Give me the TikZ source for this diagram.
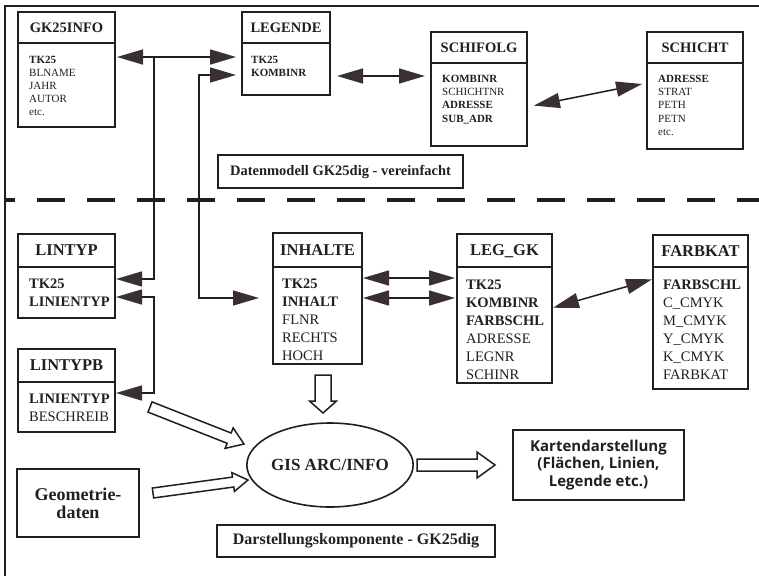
\documentclass[tikz,border=0pt]{standalone}
\usepackage{fontspec}
\setmainfont{Liberation Serif}
\newfontfamily\kartenfont{Open Sans}
\usetikzlibrary{arrows.meta,calc,shapes.geometric}

\definecolor{ink}{HTML}{231E20}
\definecolor{headfill}{HTML}{3A3034}

\tikzset{
  frame/.style={draw=ink, line width=1.6pt},
  sepline/.style={draw=ink, line width=4pt, dash pattern=on 28pt off 22pt, dash phase=18pt},
  tbox/.style={draw=ink, line width=1.6pt, inner sep=0pt, outer sep=0pt, anchor=north west},
  tline/.style={draw=ink, line width=1.6pt},
  ttop/.style={text=ink, font=\fontsize{14.5}{16}\selectfont\bfseries},
  tbot/.style={text=ink, font=\fontsize{16.5}{18}\selectfont\bfseries},
  tfb/.style={text=ink, inner sep=0pt, font=\fontsize{11}{13}\selectfont\bfseries},
  tfr/.style={text=ink, inner sep=0pt, font=\fontsize{11}{13}\selectfont},
  bfb/.style={text=ink, inner sep=0pt, font=\fontsize{14.5}{18}\selectfont\bfseries},
  bfr/.style={text=ink, inner sep=0pt, font=\fontsize{14.5}{18}\selectfont},
  lbox/.style={draw=ink, line width=1.6pt, inner sep=0pt, outer sep=0pt, anchor=north west, text=ink, align=center},
  bigtip/.tip={Triangle[length=26pt, width=15pt, fill=headfill, color=headfill]},
  arr/.style={draw=ink, line width=1.5pt},
  arr1/.style={arr, -bigtip},
  arr2/.style={arr, bigtip-bigtip},
  barrow/.style={draw=ink, line width=1.5pt, fill=white, line join=miter},
}

% table with title bar: name, x1, y1, x2, ydivider, y2, title style, title
\newcommand\dbtable[8]{%
  \node[tbox, minimum width={(#4-#2)*1pt}, minimum height={(#6-#3)*1pt}] (#1) at (#2,#3) {};
  \draw[tline] (#2,#5) -- (#4,#5);
  \node[#7, anchor=base, inner sep=0pt] (#1-title) at ({(#2+#4)/2},{(#3+#5)/2+5.3}) {#8};
}
% one attribute line: style, name, x, baseline, text
\newcommand\fld[5]{\node[#1, anchor=base west] (#2) at (#3,#4) {#5};}
% hollow block arrow: from, to, shaft half width, head half width, head length
\newcommand\blockarrow[5]{%
  \draw[barrow] let \p1=($(#2)-(#1)$), \n1={veclen(\x1,\y1)}, \n2={atan2(\y1,\x1)} in
    [shift={(#1)}, rotate=\n2]
    (0pt,#3pt) -- ({\n1-#5pt},#3pt) -- ({\n1-#5pt},#4pt) -- (\n1,0pt)
    -- ({\n1-#5pt},-#4pt) -- ({\n1-#5pt},-#3pt) -- (0pt,-#3pt) -- cycle;
}

\begin{document}
\begin{tikzpicture}[x=1pt,y=-1pt]
\useasboundingbox (0,0) rectangle (759,576);
\fill[white] (0,0) rectangle (759,576);

% frame and separator between data model and display part
\draw[frame] (759,6) -- (5,6) -- (5,576);
\draw[sepline] (5,200) -- (759,200);

% ---------- data model ----------
\dbtable{gk}{18}{12}{115}{43}{127}{ttop}{GK25INFO}
\fld{tfb}{gk1}{29}{63}{TK25}
\fld{tfr}{gk2}{29}{76}{BLNAME}
\fld{tfr}{gk3}{29}{89}{JAHR}
\fld{tfr}{gk4}{29}{102}{AUTOR}
\fld{tfr}{gk5}{29}{115}{etc.}

\dbtable{leg}{242}{12}{330}{43}{95}{ttop}{LEGENDE}
\fld{tfb}{leg1}{251}{63}{TK25}
\fld{tfb}{leg2}{251}{76}{KOMBINR}

\dbtable{sf}{431}{32}{527}{63}{146}{ttop}{SCHIFOLG}
\fld{tfb}{sf1}{442}{82}{KOMBINR}
\fld{tfr}{sf2}{442}{95}{SCHICHTNR}
\fld{tfb}{sf3}{442}{108.5}{ADRESSE}
\fld{tfb}{sf4}{442}{122}{SUB\_ADR}

\dbtable{sc}{647}{32}{743}{63}{149}{ttop}{SCHICHT}
\fld{tfb}{sc1}{658}{82}{ADRESSE}
\fld{tfr}{sc2}{658}{95}{STRAT}
\fld{tfr}{sc3}{658}{108.5}{PETH}
\fld{tfr}{sc4}{658}{122}{PETN}
\fld{tfr}{sc5}{658}{135}{etc.}

\node[lbox, minimum width=245pt, minimum height=33pt,
      font=\fontsize{14.5}{16}\selectfont\bfseries] (dm) at (218,155)
      {Datenmodell GK25dig - vereinfacht};

% ---------- display component ----------
\dbtable{lt}{18}{234}{115}{267}{318}{tbot}{LINTYP}
\fld{bfb}{lt1}{29}{288}{TK25}
\fld{bfb}{lt2}{29}{306}{LINIENTYP}

\dbtable{ltb}{18}{349}{115}{382}{432}{tbot}{LINTYPB}
\fld{bfb}{ltb1}{29}{403}{LINIENTYP}
\fld{bfr}{ltb2}{29}{421}{BESCHREIB}

\dbtable{inh}{273}{233}{362}{267}{364}{tbot}{INHALTE}
\fld{bfb}{inh1}{282}{288}{TK25}
\fld{bfb}{inh2}{282}{306}{INHALT}
\fld{bfr}{inh3}{282}{324}{FLNR}
\fld{bfr}{inh4}{282}{342}{RECHTS}
\fld{bfr}{inh5}{282}{360}{HOCH}

\dbtable{lg}{457}{234}{552}{267}{383}{tbot}{LEG\_GK}
\fld{bfb}{lg1}{466}{289}{TK25}
\fld{bfb}{lg2}{466}{307}{KOMBINR}
\fld{bfb}{lg3}{466}{325}{FARBSCHL}
\fld{bfr}{lg4}{466}{343}{ADRESSE}
\fld{bfr}{lg5}{466}{361}{LEGNR}
\fld{bfr}{lg6}{466}{379}{SCHINR}

\dbtable{fk}{653}{235}{748}{267}{389}{tbot}{FARBKAT}
\fld{bfb}{fk1}{663}{289}{FARBSCHL}
\fld{bfr}{fk2}{663}{307}{C\_CMYK}
\fld{bfr}{fk3}{663}{325}{M\_CMYK}
\fld{bfr}{fk4}{663}{343}{Y\_CMYK}
\fld{bfr}{fk5}{663}{361}{K\_CMYK}
\fld{bfr}{fk6}{663}{379}{FARBKAT}

\node[draw=ink, line width=1.6pt, ellipse, minimum width=140pt, minimum height=84pt,
      inner sep=0pt, outer sep=0pt, text=ink,
      font=\fontsize{17}{19}\selectfont\bfseries] (gis) at (330,465) {GIS ARC/INFO};

\node[lbox, minimum width=122pt, minimum height=68pt,
      font=\fontsize{18}{18}\selectfont\bfseries] (geo) at (17,469) {Geometrie-\\daten};

\node[lbox, minimum width=171pt, minimum height=70pt,
      font=\kartenfont\fontsize{15}{17.5}\selectfont\bfseries] (kd) at (513,430)
      {Kartendarstellung\\(Flächen, Linien,\\Legende etc.)};

\node[lbox, minimum width=278pt, minimum height=32pt,
      font=\fontsize{16}{18}\selectfont\bfseries] (dk) at (217,525)
      {Darstellungskomponente - GK25dig};

% ---------- relations ----------
\coordinate (r57) at (0,57);
\coordinate (r75) at (0,75);
\coordinate (r76) at (0,76);
\coordinate (r83) at (0,83);
\coordinate (r107) at (0,107);
\coordinate (r278) at (0,278);
\coordinate (r279) at (0,279);
\coordinate (r297) at (0,297);
\coordinate (r298) at (0,298);
\coordinate (r308) at (0,308);
\coordinate (r393) at (0,393);
\coordinate (j1) at (154,57);
\coordinate (j2) at (199,200);
\coordinate (j3) at (154,350);

\draw[arr2, shorten <=2pt, shorten >=6pt] (gk.east |- r57) -- (leg.west |- r57);
\draw[arr1, shorten >=1pt] (j1) |- (lt.east |- r279);
\draw[arr2, shorten <=6pt, shorten >=14pt] (leg.west |- r75) -| (j2) |- (inh.west |- r298);
\draw[arr2, shorten <=1pt, shorten >=1pt] (lt.east |- r297) -| (j3) |- (ltb.east |- r393);
\draw[arr2, shorten <=7pt, shorten >=6pt] (leg.east |- r76) -- (sf.west |- r76);
\draw[arr2, shorten <=7pt, shorten >=5pt] (sf.east |- r107) -- (sc.west |- r83);
\draw[arr2, shorten <=1pt, shorten >=2pt] (inh.east |- r278) -- (lg.west |- r278);
\draw[arr2, shorten <=1pt, shorten >=2pt] (inh.east |- r298) -- (lg.west |- r298);
\draw[arr2, shorten <=1pt, shorten >=1pt] (lg.east |- r308) -- (fk.west |- r279);

% ---------- data flow into and out of the GIS ----------
\coordinate (b1s) at (323,375);
\coordinate (b1e) at (323,413);
\coordinate (b2s) at (150,407);
\coordinate (b2e) at (244,444);
\coordinate (b3s) at (153,493);
\coordinate (b3e) at (248,480);
\coordinate (b4s) at (417,465);
\coordinate (b4e) at (495,465);
\blockarrow{b1s}{b1e}{8}{13.5}{12}
\blockarrow{b2s}{b2e}{5.5}{11}{16}
\blockarrow{b3s}{b3e}{5}{9.5}{15}
\blockarrow{b4s}{b4e}{6}{13}{18}
\end{tikzpicture}
\end{document}
